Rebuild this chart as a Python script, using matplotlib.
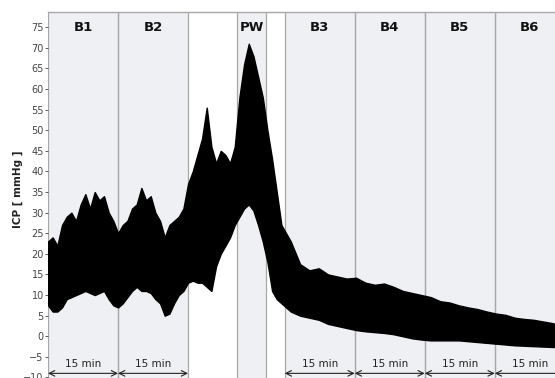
import matplotlib.pyplot as plt

# time axis in minutes, envelope of the ICP trace in mmHg
t = [0, 1, 2, 3, 4, 5, 6, 7, 8, 9, 10, 11, 12, 13, 14, 15, 16, 17, 18, 19,
     20, 21, 22, 23, 24, 25, 26, 27, 28, 29, 30, 31, 32, 33, 34, 35, 36, 37, 38, 39,
     40, 41, 42, 43, 44, 45, 46, 47, 48, 49, 50, 51, 52,
     54, 56, 58, 60, 62, 64, 66, 68, 70, 72, 74, 76, 78, 80, 82, 84, 86, 88,
     90, 92, 94, 96, 98, 100, 102, 104, 106, 108, 108.6]
icp_upper = [23, 24, 22, 27, 29, 30, 28, 32, 34.5, 31, 35, 33, 34, 30, 28, 25, 27, 28, 31, 32,
             36, 33, 34, 30, 28, 24, 27, 28, 29, 31, 37, 40, 44, 48, 55.5, 46, 42, 45, 44, 42,
             46, 58, 66, 71, 68, 63, 58, 50, 43, 35, 27, 25, 23,
             17.5, 16, 16.5, 15, 14.5, 14, 14.2, 13, 12.5, 12.8, 12, 11, 10.5, 10, 9.5, 8.5, 8.2, 7.5,
             7, 6.6, 6, 5.5, 5.2, 4.5, 4.2, 4, 3.6, 3.2, 3]
icp_lower = [7.5, 6, 6, 7, 9, 9.5, 10, 10.5, 11, 10.5, 10, 10.5, 11, 9, 7.5, 7, 8, 9.5, 11, 12,
             11, 11, 10.5, 9, 8, 5, 5.5, 8, 10, 11, 13, 13.5, 13, 13, 12, 11, 17, 20, 22, 24,
             27, 29, 31, 32, 30.5, 27, 23, 18, 11, 9, 8, 7, 6,
             5, 4.5, 4, 3, 2.5, 2, 1.5, 1.2, 1, 0.8, 0.5, 0, -0.5, -0.8, -1, -1, -1, -1,
             -1.2, -1.4, -1.6, -1.8, -2, -2.2, -2.3, -2.4, -2.5, -2.6, -2.6]

# recording segments (start, end) in minutes
seg_names = ['B1', 'B2', 'PW', 'B3', 'B4', 'B5', 'B6']
seg_start = [0, 15, 40.5, 50.7, 65.7, 80.7, 95.7]
seg_end = [15, 30, 46.7, 65.7, 80.7, 95.7, 110.7]
dur_label = '15 min'

fig = plt.figure(figsize=(5.55, 3.78), dpi=100)
ax = fig.add_axes([0.0865, -0.0204, 0.9135, 0.9886])
ax.set_xlim(0, 108.6)
ax.set_ylim(-12, 78.7)

for name, a, b in zip(seg_names, seg_start, seg_end):
    ax.axvspan(a, b, color='#eff0f3', zorder=0, lw=0)
    ax.axvline(a, color='#a8a8a8', lw=0.9, zorder=1)
    ax.axvline(b, color='#a8a8a8', lw=0.9, zorder=1)
    ax.text((a + b) / 2, 75, name, ha='center', va='center',
            fontsize=9.5, fontweight='bold', color='#111111')
    if name != 'PW':
        ax.annotate('', xy=(a, -9), xytext=(b, -9),
                    arrowprops=dict(arrowstyle='<->', color='#222222', lw=0.8,
                                    shrinkA=0, shrinkB=0))
        ax.text((a + b) / 2, -6.8, dur_label, ha='center', va='center',
                fontsize=7.5, color='#222222')

ax.fill_between(t, icp_lower, icp_upper, color='black', lw=1.0, edgecolor='black', zorder=2)

ax.set_yticks(range(-10, 80, 5))
ax.set_xticks([])
ax.tick_params(axis='y', labelsize=7, colors='#444444', length=2, width=0.6, pad=1)
for s in ['left', 'right', 'bottom']:
    ax.spines[s].set_visible(False)
ax.spines['top'].set_color('#a8a8a8')
ax.spines['top'].set_linewidth(1.0)

fig.text(0.033, 0.5, 'ICP [ mmHg ]', rotation=90, ha='center', va='center',
         fontsize=7.5, fontweight='bold', color='#222222')

fig.savefig('out.png', dpi=100)
